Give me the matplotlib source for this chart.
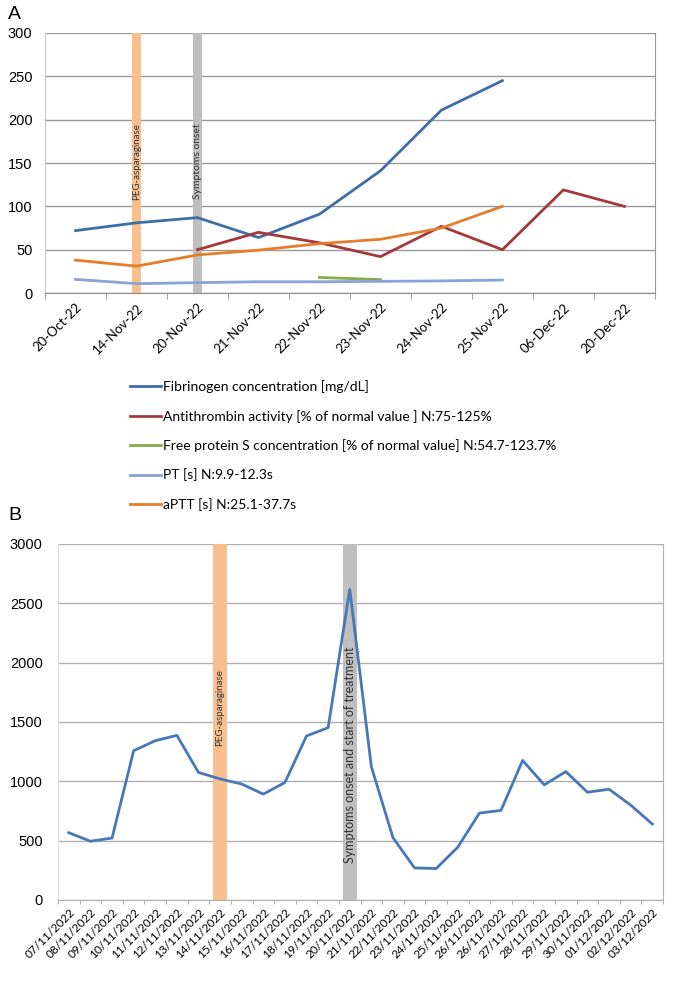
import numpy as np
import matplotlib
matplotlib.use("Agg")
import matplotlib.pyplot as plt
from matplotlib.ticker import FixedLocator

nan = np.nan

# panel A data
dates_a = ["20-Oct-22", "14-Nov-22", "20-Nov-22", "21-Nov-22", "22-Nov-22",
           "23-Nov-22", "24-Nov-22", "25-Nov-22", "06-Dec-22", "20-Dec-22"]
fibrinogen = [72, 81, 87, 64, 91, 141, 211, 245, nan, nan]
antithrombin = [nan, nan, 50, 70, 58, 42, 77, 50, 119, 100]
protein_s = [nan, nan, nan, nan, 18, 15.5, nan, nan, nan, nan]
pt = [15.8, 10.8, 12, 13, 13, 13.5, 14, 15, nan, nan]
aptt = [38, 31, 44, 49.5, 57, 62, 75, 100, nan, nan]
labels_a = ["Fibrinogen concentration [mg/dL]",
            "Antithrombin activity [% of normal value ] N:75-125%",
            "Free protein S concentration [% of normal value] N:54.7-123.7%",
            "PT [s] N:9.9-12.3s",
            "aPTT [s] N:25.1-37.7s"]
colors_a = ["#3c6ea8", "#a3393a", "#86ab48", "#85a5d6", "#e47d2c"]
events_a = {"PEG-asparaginase": 1, "Symptoms onset": 2}

# panel B data
dates_b = ["07/11/2022", "08/11/2022", "09/11/2022", "10/11/2022", "11/11/2022",
           "12/11/2022", "13/11/2022", "14/11/2022", "15/11/2022", "16/11/2022",
           "17/11/2022", "18/11/2022", "19/11/2022", "20/11/2022", "21/11/2022",
           "22/11/2022", "23/11/2022", "24/11/2022", "25/11/2022", "26/11/2022",
           "26/11/2022", "27/11/2022", "28/11/2022", "29/11/2022", "30/11/2022",
           "01/12/2022", "02/12/2022", "03/12/2022"]
values_b = [567, 495, 522, 1258, 1342, 1387, 1075, 1020, 977, 892, 990, 1382,
            1452, 2617, 1123, 525, 270, 265, 445, 732, 755, 1176, 970, 1082,
            908, 933, 800, 640]
events_b = {"PEG-asparaginase": 7, "Symptoms onset and start of treatment": 13}

band_orange = "#f9bf8e"
band_gray = "#bfbfbf"
sans = ["Lato", "DejaVu Sans"]
arial = ["Liberation Sans", "DejaVu Sans"]

fig = plt.figure(figsize=(6.85, 9.88), dpi=100)

# ---------- panel A ----------
axA = fig.add_axes([0.0657, 0.7034, 0.8903, 0.2632])
xa = np.arange(len(dates_a))
for (name, idx), c, fs in zip(events_a.items(), [band_orange, band_gray], [7, 7.5]):
    axA.axvspan(idx - 0.075, idx + 0.075, color=c, lw=0, zorder=1)
    axA.text(idx, 152, name, rotation=90, ha="center", va="center",
             fontsize=fs, family=sans, color="#333333", zorder=3)
series = [fibrinogen, antithrombin, protein_s, pt, aptt]
handles = []
for ys, c, lab in zip(series, colors_a, labels_a):
    h, = axA.plot(xa, ys, color=c, lw=2, label=lab, zorder=2)
    handles.append(h)
axA.set_xlim(-0.5, len(dates_a) - 0.5)
axA.set_ylim(0, 300)
axA.set_yticks(range(0, 301, 50))
axA.set_xticks(xa)
axA.set_xticklabels(dates_a, rotation=45, ha="right", rotation_mode="anchor",
                    fontsize=9.5, family=sans)
axA.xaxis.set_minor_locator(FixedLocator(np.arange(-0.5, len(dates_a), 1)))
axA.tick_params(axis="x", which="major", length=0, pad=6)
axA.tick_params(axis="x", which="minor", length=4, color="#8c8c8c")
axA.tick_params(axis="y", length=0, labelsize=10.5, pad=9)
for t in axA.get_yticklabels():
    t.set_family(arial)
axA.grid(axis="y", color="#9a9a9a", lw=1)
axA.set_axisbelow(True)
axA.spines["top"].set_visible(False)
axA.spines["left"].set_color("#c8c8c8")
axA.spines["right"].set_color("#9a9a9a")
axA.spines["bottom"].set_color("#8c8c8c")

leg = fig.legend(handles=handles, loc="upper left",
                 bbox_to_anchor=(0.19, 0.615), bbox_transform=fig.transFigure,
                 frameon=False, prop={"family": sans, "size": 10},
                 handlelength=2.2, handletextpad=0.15, labelspacing=1.18,
                 borderaxespad=0, borderpad=0)

# ---------- panel B ----------
axB = fig.add_axes([0.0847, 0.0891, 0.8833, 0.3603])
xb = np.arange(len(dates_b))
for (name, idx), c, ty, fs in zip(events_b.items(), [band_orange, band_gray],
                                  [1620, 1220], [7, 9]):
    axB.axvspan(idx - 0.33, idx + 0.33, color=c, lw=0, zorder=1)
    axB.text(idx, ty, name, rotation=90, ha="center", va="center",
             fontsize=fs, family=sans, color="#333333", zorder=3)
axB.plot(xb, values_b, color="#4678b8", lw=2, zorder=2)
axB.set_xlim(-0.5, len(dates_b) - 0.5)
axB.set_ylim(0, 3000)
axB.set_yticks(range(0, 3001, 500))
axB.set_xticks(xb)
axB.set_xticklabels(dates_b, rotation=45, ha="right", rotation_mode="anchor",
                    fontsize=8.5, family=sans)
axB.xaxis.set_minor_locator(FixedLocator(np.arange(-0.5, len(dates_b), 1)))
axB.tick_params(axis="x", which="major", length=0, pad=5)
axB.tick_params(axis="x", which="minor", length=3, color="#a0a0a0")
axB.tick_params(axis="y", length=0, labelsize=10.5, pad=11)
for t in axB.get_yticklabels():
    t.set_family(arial)
axB.grid(axis="y", color="#b0b0b0", lw=1)
axB.set_axisbelow(True)
axB.spines["top"].set_visible(False)
axB.spines["left"].set_color("#e0e0e0")
axB.spines["right"].set_color("#a8b4c4")
axB.spines["bottom"].set_color("#b0b0b0")

fig.text(0.012, 0.985, "A", fontsize=14, family=arial, va="center")
fig.text(0.012, 0.478, "B", fontsize=14, family=arial, va="center")

fig.savefig("out.png", dpi=100)
